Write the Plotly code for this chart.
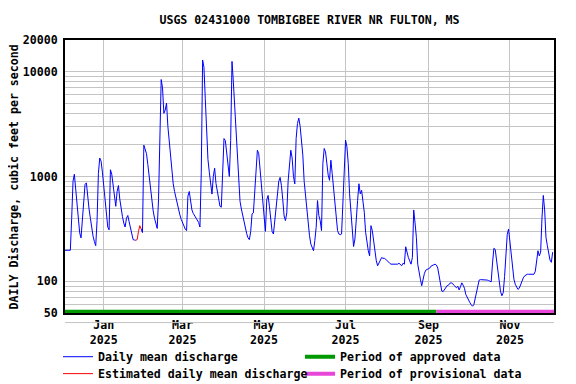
import pandas as pd
import plotly.graph_objects as go

# ---------------- data ----------------
start_date = "2024-12-03"
daily_mean_discharge = [
    198, 198, 198, 198, 198, 400, 900, 1050, 760, 520,
    400, 290, 260, 420, 650, 840, 870, 620, 490, 400,
    320, 270, 240, 219, 380, 1070, 1500, 1400, 1100, 790,
    590, 430, 330, 310, 1160, 1050, 850, 640, 520, 720,
    820, 610, 490, 415, 360, 330, 400, 425, 370, 320,
    275, 250, 248, 247, None, None, None, 316, 292, 1990,
    1800, 1650, 1300, 1000, 760, 580, 470, 400, 350, 320,
    600, 2500, 8400, 7000, 4000, 4300, 5000, 3000, 2100, 1500,
    1100, 850, 720, 620, 540, 480, 430, 390, 360, 335,
    315, 305, 650, 720, 600, 480, 445, 425, 400, 385,
    365, 330, 1100, 12900, 11000, 5500, 2200, 1450, 1100, 880,
    680, 1000, 1200, 860, 700, 580, 520, 510, 1300, 2300,
    2200, 1700, 1250, 1000, 2200, 12500, 8000, 4500, 2400, 1500,
    800, 580, 490, 420, 360, 320, 285, 260, 250, 300,
    440, 450, 700, 1000, 1780, 1650, 1150, 880, 640, 380,
    300, 600, 660, 520, 380, 300, 283, 380, 500, 680,
    900, 980, 820, 600, 420, 380, 450, 900, 1300, 1780,
    1500, 1000, 850, 2300, 3200, 3600, 3000, 2200, 1600, 900,
    660, 457, 328, 273, 227, 206, 196, 245, 328, 590,
    424, 380, 305, 1330, 1850, 1720, 1230, 1030, 920, 1430,
    1065, 764, 569, 409, 305, 283, 279, 283, 548, 1430,
    2220, 1920, 1330, 684, 440, 316, 215, 254, 353, 590,
    853, 684, 737, 612, 457, 294, 227, 196, 175, 340,
    305, 245, 182, 157, 141, 151, 163, 169, 166, 166,
    163, 157, 154, 149, 146, 146, 146, 146, 146, 146,
    149, 146, 141, 149, 146, 214, 185, 169, 157, 146,
    169, 480, 360, 263, 146, 116, 105, 91, 109, 119,
    128, 130, 130, 134, 140, 143, 144, 146, 143, 134,
    113, 97, 81, 80, 84, 87, 91, 92, 96, 97,
    96, 92, 90, 87, 90, 83, 89, 97, 92, 86,
    75, 70, 65, 63, 60, 58, 60, 70, 80, 94,
    103, 104, 104, 104, 104, 104, 103, 102, 101, 99,
    150, 207, 202, 160, 118, 91, 80, 73, 78, 111,
    196, 280, 316, 240, 170, 130, 105, 94, 87, 84,
    86, 94, 101, 108, 113, 116, 117, 117, 117, 117,
    117, 117, 125, 150, 196, 175, 190, 400, 660, 480,
    263, 220, 185, 160, 152, 190,
]
estimated_dates = ["2025-01-25", "2025-01-26", "2025-01-27", "2025-01-28", "2025-01-29"]
estimated_values = [247, 250, 300, 340, 316]

approved_period = ["2024-12-03", "2025-09-07"]
provisional_period = ["2025-09-07", "2025-12-04"]

month_ticks = ["2025-01-01", "2025-03-01", "2025-05-01", "2025-07-01", "2025-09-01", "2025-11-01"]
month_labels = ["Jan<br>2025", "Mar<br>2025", "May<br>2025", "Jul<br>2025", "Sep<br>2025", "Nov<br>2025"]
y_ticks = [50, 100, 1000, 10000, 20000]
y_minor = [60, 70, 80, 90, 200, 300, 400, 500, 600, 700, 800, 900,
           2000, 3000, 4000, 5000, 6000, 7000, 8000, 9000]

title_text = "USGS 02431000 TOMBIGBEE RIVER NR FULTON, MS"
y_title = "DAILY Discharge, cubic feet per second"

# ---------------- styles ----------------
FONT = dict(family="DejaVu Sans Mono", size=11.6, color="black", weight="bold")
GRID = "#c4c4c4"
BAR_LEVEL = 51.3
# the page body has an 8px margin, so the figure is sized to fill the rest of the window
FIG_W, FIG_H = 568, 376
ROW1_Y, ROW2_Y = -0.107, -0.169
COL1_X, COL2_X = -0.0143, 0.4806

dates = pd.date_range(start_date, periods=len(daily_mean_discharge), freq="D")

fig = go.Figure()
fig.add_trace(go.Scatter(x=approved_period, y=[BAR_LEVEL] * 2, mode="lines",
                         line=dict(color="#009900", width=4),
                         name="Period of approved data", legend="legend2"))
fig.add_trace(go.Scatter(x=provisional_period, y=[BAR_LEVEL] * 2, mode="lines",
                         line=dict(color="#e846d8", width=4),
                         name="Period of provisional data", legend="legend4"))
fig.add_trace(go.Scatter(x=dates, y=daily_mean_discharge, mode="lines",
                         line=dict(color="#0000ff", width=1),
                         connectgaps=False, name="Daily mean discharge", legend="legend"))
fig.add_trace(go.Scatter(x=estimated_dates, y=estimated_values, mode="lines",
                         line=dict(color="#ff0000", width=1),
                         name="Estimated daily mean discharge", legend="legend3"))


def legend_box(x, y):
    return dict(x=x, y=y, xanchor="left", yanchor="top", bgcolor="rgba(0,0,0,0)",
                font=FONT, tracegroupgap=0)


fig.update_layout(
    width=FIG_W, height=FIG_H,
    margin=dict(l=57, r=22, t=32, b=71, autoexpand=False),
    paper_bgcolor="white", plot_bgcolor="white",
    font=FONT,
    title=dict(text=title_text, x=301.5 / FIG_W, xanchor="center", xref="container",
               y=1 - 12 / FIG_H, yanchor="middle", font=FONT),
    showlegend=True,
    legend=legend_box(COL1_X, ROW1_Y),
    legend2=legend_box(COL2_X, ROW1_Y),
    legend3=legend_box(COL1_X, ROW2_Y),
    legend4=legend_box(COL2_X, ROW2_Y),
    xaxis=dict(
        type="date", range=["2024-12-03", "2025-12-04"],
        tickvals=month_ticks, ticktext=month_labels,
        showgrid=True, gridcolor=GRID, gridwidth=1,
        showline=True, mirror=True, linecolor="black", linewidth=2,
        ticks="", tickfont=FONT, ticklabelstandoff=0, zeroline=False,
    ),
    yaxis=dict(
        type="log", range=[1.69897, 4.30103],
        tickvals=y_ticks, ticktext=[str(v) for v in y_ticks],
        showgrid=True, gridcolor=GRID, gridwidth=1,
        minor=dict(tickvals=y_minor, showgrid=True, gridcolor=GRID, gridwidth=1, ticks=""),
        showline=True, mirror=True, linecolor="black", linewidth=2,
        ticks="", tickfont=FONT, ticklabelstandoff=3, zeroline=False,
    ),
    annotations=[dict(text=y_title, textangle=-90, xref="paper", yref="paper",
                      x=-0.1043, y=0.5, xanchor="center", yanchor="middle",
                      showarrow=False, font=FONT)],
    shapes=[dict(type="line", xref="paper", yref="paper", x0=0, x1=1,
                 y0=-0.035, y1=-0.035, line=dict(color="#c4c4c4", width=1))],
)

fig.write_html("out.html")
